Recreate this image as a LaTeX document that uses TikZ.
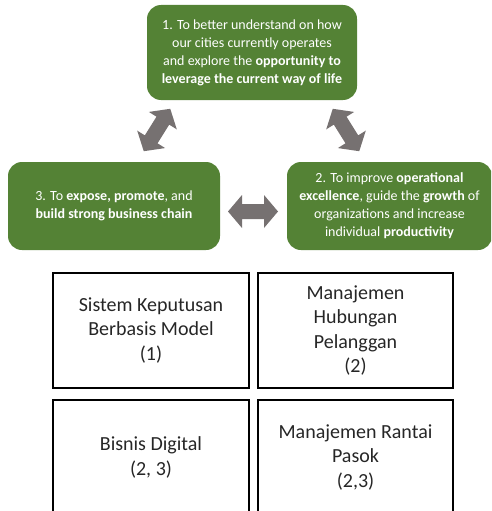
\documentclass[tikz,border=0pt]{standalone}
\usepackage{fontspec}
\setmainfont{Carlito}
\definecolor{leafgreen}{RGB}{84,130,53}
\definecolor{arrowgray}{RGB}{118,113,113}
\definecolor{inkgray}{RGB}{38,38,38}
\begin{document}
\begin{tikzpicture}[x=1pt,y=-1pt,
  goal/.style={fill=leafgreen, rounded corners=14pt, text=white, align=center,
    inner sep=0pt, font=\fontsize{14}{18}\selectfont},
  topic/.style={draw=black, line width=1.8pt, align=center, inner sep=0pt,
    text=inkgray, font=\fontsize{20}{24.5}\selectfont},
  dblarrow/.pic={
    \fill[arrowgray] (-25,0) -- (-11,-16.5) -- (-11,-7.5) -- (11,-7.5)
      -- (11,-16.5) -- (25,0) -- (11,16.5) -- (11,7.5) -- (-11,7.5)
      -- (-11,16.5) -- cycle;
  }]
\clip (0,0) rectangle (491,511);

% three goals
\node[goal, minimum width=210pt, minimum height=95pt] (g1) at (252,52.5)
  {1. To better understand on how\\our cities currently operates\\and explore the \textbf{opportunity to}\\\textbf{leverage the current way of life}};
\node[goal, minimum width=212pt, minimum height=88pt] (g3) at (114,206)
  {3. To \textbf{expose, promote}, and\\\textbf{build strong business chain}};
\node[goal, minimum width=205pt, minimum height=88pt] (g2) at (389.5,206)
  {2. To improve \textbf{operational}\\\textbf{excellence}, guide the \textbf{growth} of\\organizations and increase\\individual \textbf{productivity}};

% block arrows linking the goals
\pic[rotate=58] at (157,130) {dblarrow};
\pic[rotate=-58] at (346,130) {dblarrow};
\pic at (253,211.5) {dblarrow};

% topics
\node[topic, minimum width=196pt, minimum height=115pt] (t1) at (151,330.5)
  {Sistem Keputusan\\Berbasis Model\\(1)};
\node[topic, minimum width=195pt, minimum height=115pt] (t2) at (355.5,330.5)
  {Manajemen\\Hubungan\\Pelanggan\\(2)};
\node[topic, minimum width=196pt, minimum height=115pt] (t3) at (151,457.5)
  {Bisnis Digital\\(2, 3)};
\node[topic, minimum width=195pt, minimum height=115pt] (t4) at (355.5,457.5)
  {Manajemen Rantai\\Pasok\\(2,3)};
\end{tikzpicture}
\end{document}
